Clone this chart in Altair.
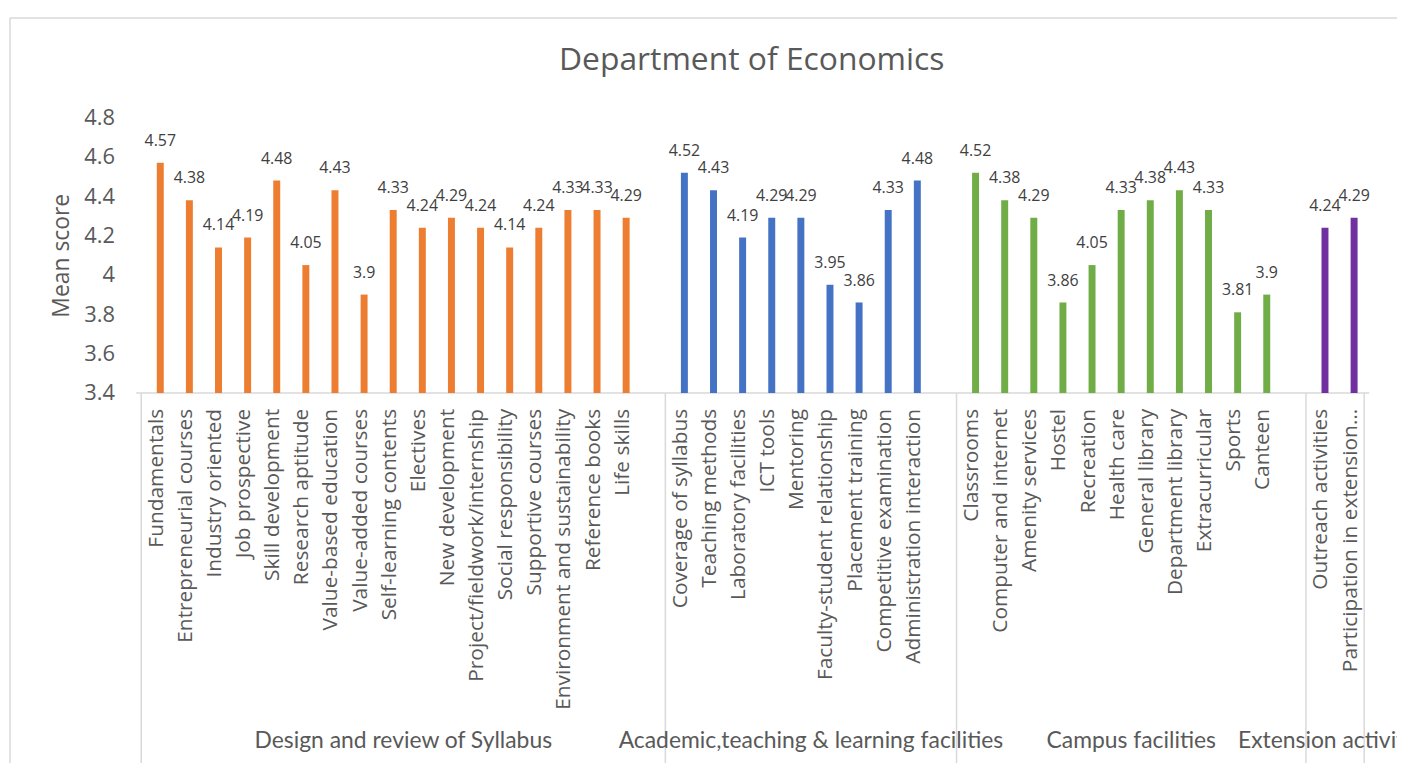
import altair as alt
import pandas as pd

TITLE = "Department of Economics"
Y_TITLE = "Mean score"
Y_TICKS = [3.4, 3.6, 3.8, 4.0, 4.2, 4.4, 4.6, 4.8]

GROUPS = [
    "Design and review of Syllabus",
    "Academic,teaching & learning facilities",
    "Campus facilities",
    "Extension activities",
]
GROUP_COLORS = ["#ED7D31", "#4472C4", "#70AD47", "#7030A0"]

DESIGN_ITEMS = [
    "Fundamentals", "Entrepreneurial courses", "Industry oriented", "Job prospective",
    "Skill development", "Research aptitude", "Value-based education", "Value-added courses",
    "Self-learning contents", "Electives", "New development", "Project/fieldwork/internship",
    "Social responsibility", "Supportive courses", "Environment and sustainability",
    "Reference books", "Life skills",
]
DESIGN_VALUES = [4.57, 4.38, 4.14, 4.19, 4.48, 4.05, 4.43, 3.9, 4.33, 4.24, 4.29, 4.24,
                 4.14, 4.24, 4.33, 4.33, 4.29]

ACADEMIC_ITEMS = [
    "Coverage of syllabus", "Teaching methods", "Laboratory facilities", "ICT tools",
    "Mentoring", "Faculty-student relationship", "Placement training",
    "Competitive examination", "Administration interaction",
]
ACADEMIC_VALUES = [4.52, 4.43, 4.19, 4.29, 4.29, 3.95, 3.86, 4.33, 4.48]

CAMPUS_ITEMS = [
    "Classrooms", "Computer and internet", "Amenity services", "Hostel", "Recreation",
    "Health care", "General library", "Department library", "Extracurricular", "Sports",
    "Canteen",
]
CAMPUS_VALUES = [4.52, 4.38, 4.29, 3.86, 4.05, 4.33, 4.38, 4.43, 4.33, 3.81, 3.9]

EXTENSION_ITEMS = ["Outreach activities", "Participation in extension…"]
EXTENSION_VALUES = [4.24, 4.29]

ALL_ITEMS = [DESIGN_ITEMS, ACADEMIC_ITEMS, CAMPUS_ITEMS, EXTENSION_ITEMS]
ALL_VALUES = [DESIGN_VALUES, ACADEMIC_VALUES, CAMPUS_VALUES, EXTENSION_VALUES]

# Build slot table (one blank slot after each group except the last, like Excel)
rows = []
bounds = [0]
slot = 0
for gi, (g, items, vals) in enumerate(zip(GROUPS, ALL_ITEMS, ALL_VALUES)):
    for it, v in zip(items, vals):
        rows.append({"group": g, "item": it, "value": v, "pos": slot + 0.5})
        slot += 1
    if gi < len(GROUPS) - 1:
        slot += 1
    bounds.append(slot)
N_SLOTS = slot

df = pd.DataFrame(rows)
groups_df = pd.DataFrame({
    "group": GROUPS,
    "center": [(bounds[i] + bounds[i + 1]) / 2 for i in range(len(GROUPS))],
})
bounds_df = pd.DataFrame({"b": bounds})
title_df = pd.DataFrame({"t": [TITLE]})

W, H = 1240, 277
GRAY = "#595959"
LINE = "#d9d9d9"
FONT = "Open Sans"

xscale = alt.Scale(domain=[0, N_SLOTS], nice=False, zero=False)
yscale = alt.Scale(domain=[Y_TICKS[0], Y_TICKS[-1]], nice=False, zero=False)
X = alt.X("pos:Q", scale=xscale, axis=None)

Y_AXIS = alt.Axis(
    values=Y_TICKS, format=".2~f", grid=False, ticks=False, domain=False,
    labelOverlap=False, labelFlush=False, labelBound=False,
    labelFontSize=22, labelColor=GRAY, labelFont=FONT, labelPadding=22,
    title=Y_TITLE, titleFontSize=23, titleFont=FONT, titleFontWeight="normal",
    titleColor=GRAY, titleAngle=270, titleX=-75, titleY=H / 2,
    titleAlign="center", titleBaseline="middle",
)

bars = alt.Chart(df).mark_bar(size=7, xOffset=4.5).encode(
    x=X,
    y=alt.Y("value:Q", scale=yscale, axis=Y_AXIS),
    y2=alt.Y2(datum=Y_TICKS[0]),
    color=alt.Color("group:N", scale=alt.Scale(domain=GROUPS, range=GROUP_COLORS), legend=None),
)

value_labels = alt.Chart(df).mark_text(
    fontSize=16, font=FONT, color="#404040", xOffset=4.5, dy=-22, baseline="middle"
).encode(
    x=X,
    y=alt.Y("value:Q", scale=yscale, axis=Y_AXIS),
    text=alt.Text("value:Q", format=".2~f"),
)

item_labels = alt.Chart(df).mark_text(
    fontSize=21, font=FONT, color=GRAY, angle=270, align="right",
    baseline="alphabetic", xOffset=7,
).encode(
    x=X,
    y=alt.value(H + 16),
    text="item:N",
)

group_labels = alt.Chart(groups_df).mark_text(
    fontSize=23, font="Lato", color=GRAY, baseline="middle", align="center",
).encode(
    x=alt.X("center:Q", scale=xscale, axis=None),
    y=alt.value(627),
    text="group:N",
)

separators = alt.Chart(bounds_df).mark_rule(color=LINE, strokeWidth=1.5).encode(
    x=alt.X("b:Q", scale=xscale, axis=None),
    y=alt.value(H),
    y2=alt.value(H + 400),
)

axis_line = alt.Chart(title_df).mark_rule(color=LINE, strokeWidth=1.5).encode(
    x=alt.value(0), x2=alt.value(W), y=alt.value(H),
)

border_left = alt.Chart(title_df).mark_rule(color=LINE, strokeWidth=1.5).encode(
    x=alt.value(-127), y=alt.value(-100), y2=alt.value(H + 400),
)
border_top = alt.Chart(title_df).mark_rule(color=LINE, strokeWidth=1.5).encode(
    x=alt.value(-127), x2=alt.value(W + 200), y=alt.value(-100),
)

title = alt.Chart(title_df).mark_text(
    fontSize=32, font=FONT, color=GRAY, align="center", baseline="alphabetic",
).encode(
    x=alt.value(619), y=alt.value(-48), text="t:N",
)

chart = alt.layer(
    border_left, border_top, separators, axis_line, bars, value_labels,
    item_labels, group_labels, title,
).properties(
    width=W, height=H,
    autosize=alt.AutoSizeParams(type="none"),
    padding={"left": 129, "top": 108, "right": 28, "bottom": 370},
    background="white",
).configure_view(stroke=None)

chart.save("out.html", embed_options={"renderer": "svg", "actions": False})
